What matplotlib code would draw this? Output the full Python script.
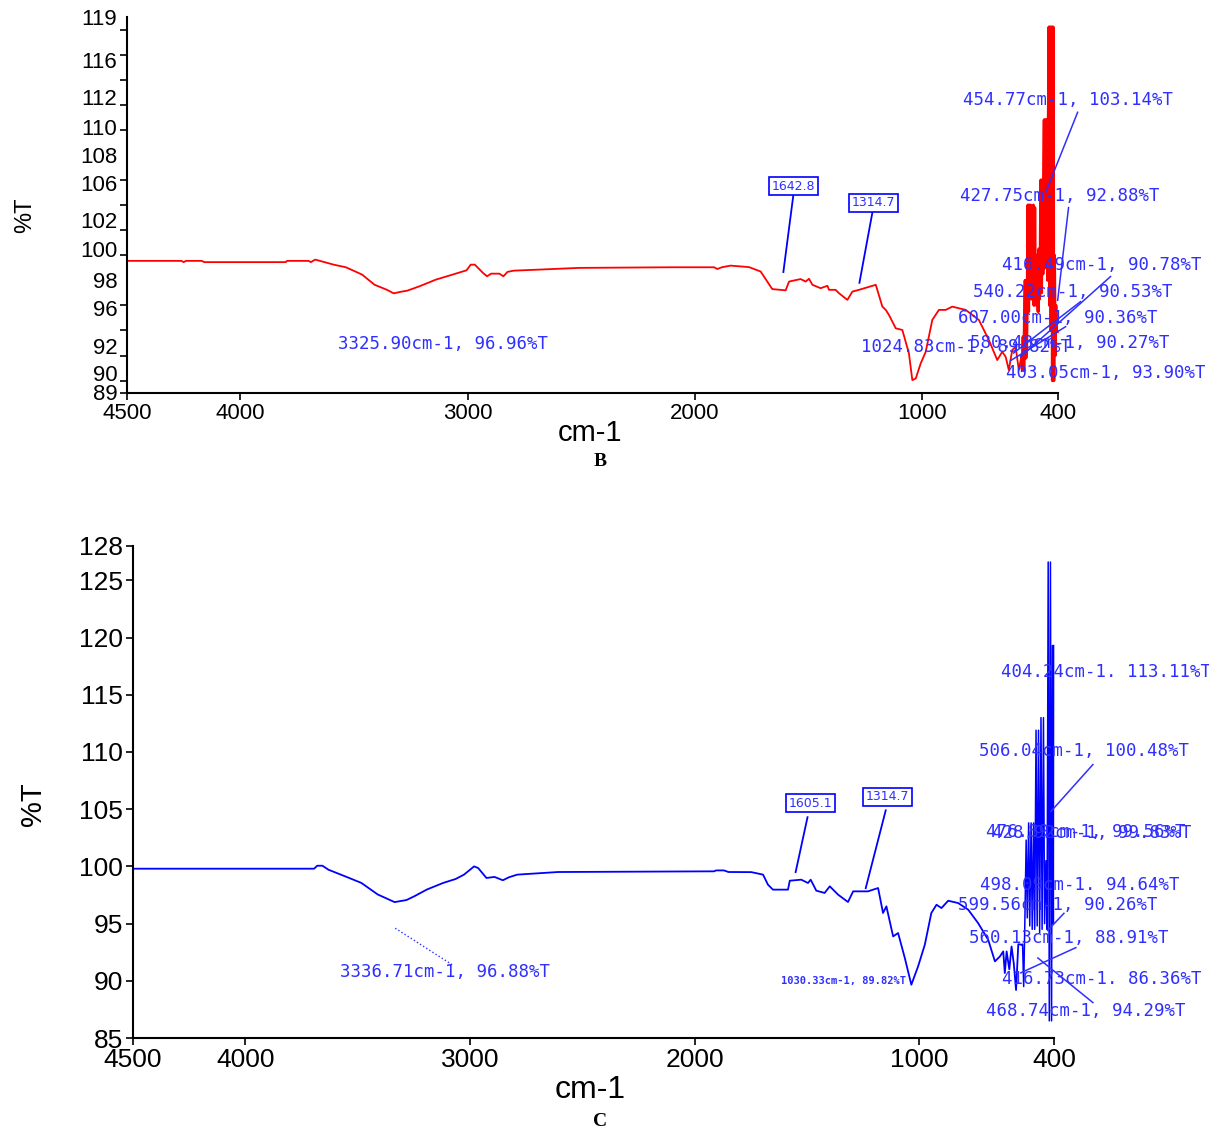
import matplotlib.pyplot as plt

# ---------------- spectrum B (red) ----------------
wn_b = [4500, 4400, 4260, 4250, 4240, 4170, 4160, 4150, 4000, 3800, 3795, 3700, 3690,
        3671, 3644, 3590, 3536, 3500, 3464, 3410, 3356, 3325, 3290, 3266, 3212, 3140,
        3067, 3004, 2986, 2968, 2932, 2914, 2896, 2860, 2842, 2824, 2797, 2689, 2509,
        2100, 1914, 1900, 1880, 1842, 1792, 1760, 1709, 1658, 1599, 1584, 1533, 1511,
        1496, 1481, 1445, 1415, 1408, 1379, 1364, 1327, 1305, 1276, 1202, 1173, 1158,
        1144, 1114, 1085, 1056, 1041, 1026, 1004, 982, 953, 924, 894, 865, 806, 748,
        704, 667, 645, 630, 616, 601, 586, 572, 560]
t_b = [99.55, 99.55, 99.55, 99.45, 99.55, 99.55, 99.45, 99.45, 99.45, 99.45, 99.55, 99.55, 99.45,
       99.65, 99.52, 99.25, 99.04, 98.75, 98.45, 97.65, 97.25, 96.96, 97.10, 97.17, 97.52, 98.05,
       98.45, 98.80, 99.25, 99.25, 98.59, 98.32, 98.53, 98.53, 98.32, 98.67, 98.77, 98.85, 98.99,
       99.04, 99.04, 98.90, 99.04, 99.17, 99.10, 99.05, 98.70, 97.30, 97.20, 97.90, 98.10, 97.90,
       98.12, 97.64, 97.37, 97.56, 97.24, 97.24, 96.97, 96.44, 97.10, 97.24, 97.64, 95.90, 95.64,
       95.24, 94.17, 94.04, 92.17, 90.04, 90.17, 91.38, 92.30, 94.84, 95.64, 95.64, 95.90, 95.64, 94.84,
       93.24, 91.64, 92.30, 91.90, 90.84, 92.44, 92.70, 90.84, 92.00]

wn_b_noise = [560, 557, 553, 550, 547, 544, 541, 538, 535, 532, 529, 526, 523, 520, 517, 514,
              511, 508, 505, 502, 499, 496, 493, 490, 487, 484, 481, 478, 475, 472, 469, 466,
              463, 460, 457, 454, 451, 448, 445, 442, 439, 436, 433, 430, 427, 424, 421, 418,
              415, 412, 409, 406, 403]
t_b_noise = [92.0, 90.9, 93.5, 90.8, 95.0, 98.0, 91.8, 92.5, 96.0, 104.0, 95.5, 104.0, 97.0, 104.0,
             96.5, 103.5, 97.5, 104.0, 96.0, 103.8, 97.0, 100.0, 96.0, 99.5, 95.5, 100.5, 96.5, 99.0,
             106.0, 97.0, 106.0, 98.5, 106.0, 110.8, 99.0, 110.8, 100.0, 110.8, 98.0, 110.8, 118.2,
             96.0, 118.2, 94.0, 118.2, 90.0, 118.2, 90.0, 100.0, 92.0, 96.0, 93.9, 93.9]

# ---------------- spectrum C (blue) ----------------
wn_c = [4500, 3694, 3680, 3657, 3630, 3557, 3484, 3411, 3356, 3336, 3283, 3246, 3192, 3119,
        3064, 3027, 3000, 2982, 2964, 2927, 2891, 2854, 2827, 2790, 2608, 1914, 1905, 1870,
        1850, 1748, 1696, 1674, 1652, 1585, 1577, 1526, 1496, 1484, 1459, 1422, 1399, 1362,
        1318, 1295, 1229, 1184, 1162, 1147, 1117, 1095, 1065, 1036, 1006, 976, 947, 924,
        902, 872, 828, 783, 739, 694, 664, 642, 627, 620, 612, 600, 590, 580, 570, 560, 546]
t_c = [99.80, 99.80, 100.06, 100.06, 99.71, 99.14, 98.56, 97.55, 97.06, 96.88, 97.06, 97.41, 97.98, 98.56,
       98.90, 99.28, 99.71, 100.00, 99.86, 98.99, 99.08, 98.79, 99.05, 99.28, 99.51, 99.57, 99.65, 99.65,
       99.51, 99.50, 99.28, 98.40, 97.97, 97.97, 98.75, 98.84, 98.55, 98.84, 97.88, 97.68, 98.26, 97.53,
       96.89, 97.82, 97.82, 98.11, 95.93, 96.51, 93.88, 94.18, 91.99, 89.66, 91.26, 93.16, 95.93, 96.65,
       96.36, 97.00, 96.80, 96.22, 95.05, 93.59, 91.70, 92.13, 92.57, 90.68, 92.57, 91.00, 93.00, 91.50,
       89.20, 93.20, 93.16]

wn_c_noise = [546, 541, 536, 531, 525, 520, 514, 509, 503, 498, 492, 487, 481, 476, 470,
              465, 459, 454, 448, 443, 437, 432, 427, 422, 417, 412, 408, 404, 403]
t_c_noise = [93.16, 93.2, 89.5, 95.0, 102.3, 95.5, 103.8, 94.8, 103.8, 94.5, 103.8, 94.5,
             111.9, 94.8, 111.9, 94.2, 113.0, 94.5, 113.0, 95.0, 100.5, 94.5, 126.6, 86.5,
             126.6, 86.5, 119.3, 95.0, 119.3]

xticks = [4500, 4000, 3000, 2000, 1000, 400]
# top panel: tick marks every 2 %T, labels where the instrument printed them
ytick_marks_b = [89, 90, 92, 94, 96, 98, 100, 102, 104, 106, 108, 110, 112, 114, 116, 118, 119]
ylabel_pos_b = [119.0, 115.6, 112.6, 110.2, 108.0, 105.8, 102.8, 100.5, 98.0, 95.8, 92.8, 90.6, 89.1]
ylabel_txt_b = ['119', '116', '112', '110', '108', '106', '102', '100', '98', '96', '92', '90', '89']
yticks_c = [85, 90, 95, 100, 105, 110, 115, 120, 125, 128]

# peak labels: (text, x, y) in data units
labels_b = [("454.77cm-1, 103.14%T", 820, 112.4),
            ("427.75cm-1, 92.88%T", 829, 104.7),
            ("416.49cm-1, 90.78%T", 644, 99.2),
            ("540.22cm-1, 90.53%T", 776, 97.1),
            ("607.00cm-1, 90.36%T", 842, 95.0),
            ("1024.83cm-1, 89.82%T", 1265, 92.7),
            ("580.48cm-1, 90.27%T", 785, 93.0),
            ("403.05cm-1, 93.90%T", 630, 90.6),
            ("3325.90cm-1, 96.96%T", 3570, 92.9)]
leaders_b = [((313, 111.4), (454, 105.0)),
             ((353, 103.8), (401, 96.4)),
             ((168, 98.3), (564, 91.9)),
             ((300, 96.3), (595, 92.2)),
             ((366, 94.3), (608, 91.6))]
boxes_b = [("1642.8", 1565, 105.5, (1565, 104.8), (1609, 98.66)),
           ("1314.7", 1212, 104.2, (1217, 103.4), (1274, 97.8))]

labels_c = [("404.24cm-1. 113.11%T", 638, 117.0),
            ("506.04cm-1, 100.48%T", 736, 110.1),
            ("476.89cm-1, 99.56%T", 705, 103.0),
            ("428.92cm-1, 99.83%T", 678, 102.9),
            ("498.09cm-1. 94.64%T", 732, 98.4),
            ("599.56cm-1, 90.26%T", 830, 96.6),
            ("560.13cm-1, 88.91%T", 781, 93.7),
            ("416.73cm-1. 86.36%T", 634, 90.2),
            ("468.74cm-1, 94.29%T", 705, 87.4),
            ("3336.71cm-1, 96.88%T", 3578, 90.8)]
leaders_c = [((228, 108.9), (415, 104.8)),
             ((357, 95.9), (429, 94.4)),
             ((304, 92.9), (549, 90.7)),
             ((228, 88.1), (473, 92.0))]
boxes_c = [("1605.1", 1484, 105.5, (1498, 104.3), (1551, 99.5)),
           ("1314.7", 1141, 106.1, (1150, 104.9), (1239, 98.1))]

ann_col = '#2f2fff'
plt.rcParams['font.family'] = ['Liberation Sans', 'DejaVu Sans']

fig = plt.figure(figsize=(12.09, 11.33), dpi=100)
ax1 = fig.add_axes([0.105, 0.653, 0.770, 0.332])
ax2 = fig.add_axes([0.110, 0.0838, 0.762, 0.4343])


def style_axes(ax, ylim, fs):
    ax.set_xlim(4500, 400)
    ax.set_ylim(*ylim)
    ax.set_xticks(xticks)
    ax.spines['top'].set_visible(False)
    ax.spines['right'].set_visible(False)
    for s in ('left', 'bottom'):
        ax.spines[s].set_linewidth(1.5)
    ax.tick_params(which='both', direction='out', length=5, width=1.2,
                   labelsize=fs, pad=2)


style_axes(ax1, (89, 119), 16)
ax1.set_yticks(ylabel_pos_b, labels=ylabel_txt_b)
ax1.set_yticks(ytick_marks_b, minor=True)
ax1.tick_params(axis='y', which='major', length=0, pad=7)
style_axes(ax2, (85, 128), 19)
ax2.set_yticks(yticks_c)

ax1.plot(wn_b, t_b, color='red', lw=1.3)
ax1.plot(wn_b_noise, t_b_noise, color='red', lw=2.2, clip_on=False)
ax2.plot(wn_c, t_c, color='blue', lw=1.3)
ax2.plot(wn_c_noise, t_c_noise, color='blue', lw=1.1, clip_on=False)

for ax, labels, leaders, boxes in ((ax1, labels_b, leaders_b, boxes_b),
                                   (ax2, labels_c, leaders_c, boxes_c)):
    for txt, x, y in labels:
        ax.text(x, y, txt, color=ann_col, fontsize=12.5, family='DejaVu Sans Mono',
                ha='left', va='center', clip_on=False)
    for (x0, y0), (x1, y1) in leaders:
        ax.plot([x0, x1], [y0, y1], color=ann_col, lw=1.1, clip_on=False)
    for txt, x, y, p0, p1 in boxes:
        ax.text(x, y, txt, color=ann_col, fontsize=9, ha='center', va='center',
                family=['Liberation Sans Narrow', 'DejaVu Sans'],
                bbox=dict(boxstyle='square,pad=0.2', fc='white', ec='blue', lw=1.2))
        ax.plot([p0[0], p1[0]], [p0[1], p1[1]], color='blue', lw=1.3)

ax2.plot([3333, 3079], [94.6, 91.4], color=ann_col, lw=1.0, ls=':')
ax2.text(1618, 90.0, "1030.33cm-1, 89.82%T", color=ann_col, fontsize=7.5,
         family='DejaVu Sans Mono', fontweight='bold', ha='left', va='center')

fig.text(0.021, 0.810, '%T', rotation=90, fontsize=17, ha='center', va='center')
fig.text(0.027, 0.290, '%T', rotation=90, fontsize=21, ha='center', va='center')
fig.text(0.488, 0.618, 'cm-1', fontsize=21, ha='center', va='center')
fig.text(0.488, 0.038, 'cm-1', fontsize=23, ha='center', va='center')
fig.text(0.496, 0.593, 'B', fontsize=14, fontweight='bold', family='Liberation Serif',
         ha='center', va='center')
fig.text(0.496, 0.010, 'C', fontsize=14, fontweight='bold', family='Liberation Serif',
         ha='center', va='center')

fig.savefig('out.png', dpi=100)
